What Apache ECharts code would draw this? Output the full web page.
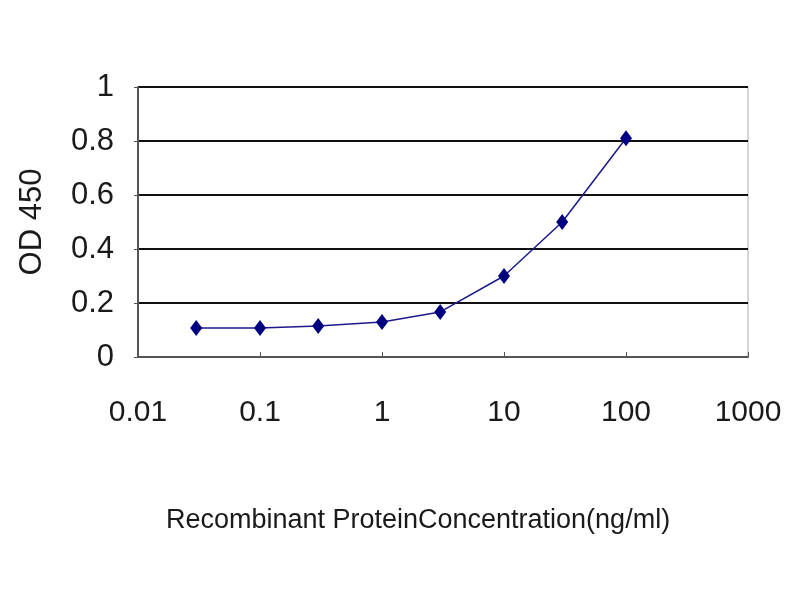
<!DOCTYPE html>
<html><head><meta charset="utf-8">
<script src="https://cdn.jsdelivr.net/npm/echarts@6/dist/echarts.min.js"></script>
<style>html,body{margin:0;padding:0;background:#fff}#c{width:800px;height:600px}</style>
</head><body><div id="c"></div>
<script>
const concentrations = [0.03, 0.1, 0.3, 1, 3, 10, 30, 100];
const od450 = [0.107, 0.107, 0.115, 0.13, 0.167, 0.30, 0.50, 0.81];
const xTickLabels = ['0.01', '0.1', '1', '10', '100', '1000'];
const yTickLabels = ['0', '0.2', '0.4', '0.6', '0.8', '1'];
const xTitle = 'Recombinant ProteinConcentration(ng/ml)';
const yTitle = 'OD 450';

const chart = echarts.init(document.getElementById('c'));
const regular = '"Liberation Sans", Arial, sans-serif';
chart.setOption({
  animation: false,
  backgroundColor: '#fff',
  grid: { left: 138, top: 87, width: 610, height: 270, show: true, borderColor: '#aaa', borderWidth: 1, backgroundColor: 'transparent' },
  xAxis: {
    type: 'log', logBase: 10, min: 0.01, max: 1000,
    name: xTitle, nameLocation: 'middle', nameGap: 150,
    nameTextStyle: { fontFamily: regular, fontSize: 27, color: '#1a1a1a', padding: [0, 50, 0, 0] },
    axisLine: { show: true, onZero: false, lineStyle: { color: '#555', width: 2 } },
    axisTick: { show: true, length: 5, inside: true, lineStyle: { color: '#555' } },
    splitLine: { show: false },
    axisLabel: { fontFamily: regular, fontSize: 30, color: '#1a1a1a', margin: 41,
      formatter: v => { const i = Math.round(Math.log10(v)) + 2; return xTickLabels[i] || ''; } }
  },
  yAxis: {
    type: 'value', min: 0, max: 1, interval: 0.2,
    name: yTitle, nameLocation: 'middle', nameGap: 90, nameRotate: 90,
    nameTextStyle: { fontFamily: regular, fontSize: 31, color: '#1a1a1a' },
    axisLine: { show: true, lineStyle: { color: '#555', width: 2 } },
    axisTick: { show: true, length: 4, inside: false, lineStyle: { color: '#555' } },
    splitLine: { show: true, lineStyle: { color: '#111', width: 2 } },
    axisLabel: { fontFamily: regular, fontSize: 31, color: '#1a1a1a', margin: 24,
      formatter: v => yTickLabels[Math.round(v * 5)] }
  },
  series: [{
    type: 'line',
    data: concentrations.map((c, i) => [c, od450[i]]),
    symbol: 'diamond', symbolSize: [12, 16],
    itemStyle: { color: '#000080' },
    lineStyle: { color: '#1a1a8a', width: 1.5 },
    smooth: false
  }]
});
</script></body></html>
